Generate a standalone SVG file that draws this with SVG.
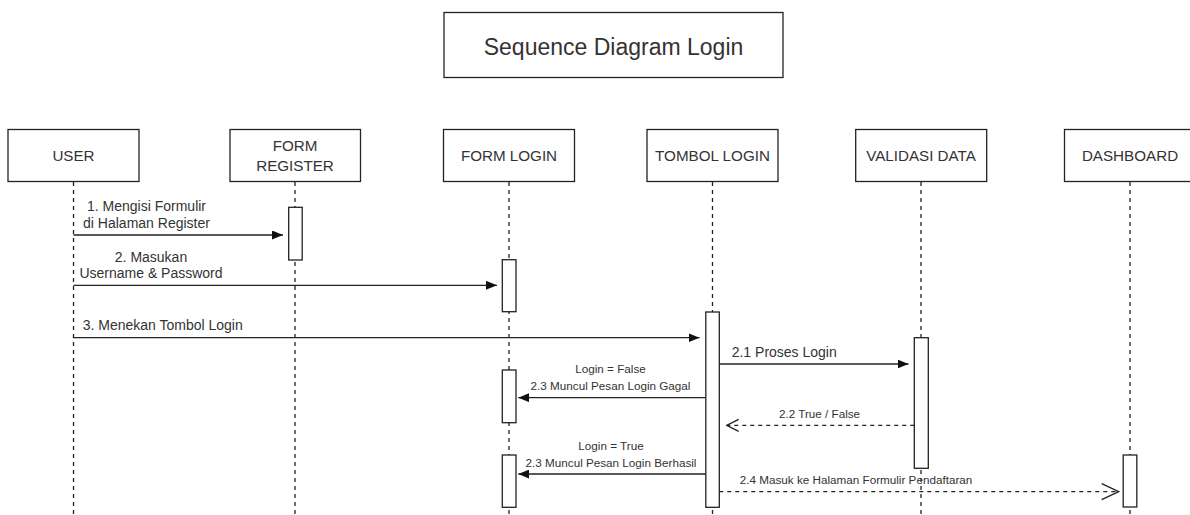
<svg xmlns="http://www.w3.org/2000/svg" width="1190" height="515" viewBox="0 0 1190 515">
  <style>
    .box { fill: #ffffff; stroke: #222222; stroke-width: 1.3; }
    .act { fill: #ffffff; stroke: #222222; stroke-width: 1.3; }
    .life { stroke: #222222; stroke-width: 1.3; stroke-dasharray: 4 4; fill: none; }
    .msg { stroke: #222222; stroke-width: 1.3; fill: none; }
    .ret { stroke: #222222; stroke-width: 1.3; stroke-dasharray: 4 4; fill: none; }
    text { font-family: "Liberation Sans", Arial, sans-serif; fill: #333333; }
    .title { font-size: 23px; text-anchor: middle; }
    .head { font-size: 15.2px; text-anchor: middle; }
    .lbl { font-size: 14px; }
    .small { font-size: 11.7px; text-anchor: middle; }
    .mid { text-anchor: middle; }
  </style>
  <defs>
    <marker id="block" viewBox="0 0 11 9" markerWidth="11" markerHeight="9" refX="11" refY="4.5" orient="auto" markerUnits="userSpaceOnUse">
      <path d="M0,0 L11,4.5 L0,9 z" fill="#111111"/>
    </marker>
    <marker id="open-sm" viewBox="0 0 14 14" markerWidth="14" markerHeight="14" refX="13" refY="7" orient="auto" markerUnits="userSpaceOnUse">
      <path d="M1,1 L13,7 L1,13" fill="none" stroke="#222222" stroke-width="1.3"/>
    </marker>
    <marker id="open-lg" viewBox="0 0 19 18" markerWidth="19" markerHeight="18" refX="18" refY="9" orient="auto" markerUnits="userSpaceOnUse">
      <path d="M1,1 L18,9 L1,17" fill="none" stroke="#222222" stroke-width="1.3"/>
    </marker>
  </defs>

  <rect width="1190" height="515" fill="#ffffff"/>

  <!-- title -->
  <g id="title">
    <rect class="box" x="444" y="12.5" width="339" height="65"/>
    <text class="title" x="613.5" y="55">Sequence Diagram Login</text>
  </g>

  <!-- lifelines -->
  <g id="lifelines">
    <line class="life" x1="73.5" y1="182" x2="73.5" y2="515"/>
    <line class="life" x1="295" y1="182" x2="295" y2="515"/>
    <line class="life" x1="509" y1="182" x2="509" y2="515"/>
    <line class="life" x1="712.5" y1="182" x2="712.5" y2="515"/>
    <line class="life" x1="921" y1="182" x2="921" y2="515"/>
    <line class="life" x1="1130" y1="182" x2="1130" y2="515"/>
  </g>

  <!-- participants -->
  <g id="user">
    <rect class="box" x="8" y="129.5" width="131" height="52"/>
    <text class="head" x="73.5" y="160.5">USER</text>
  </g>
  <g id="form-register">
    <rect class="box" x="230" y="129.5" width="130.5" height="52"/>
    <text class="head" x="295" y="151">FORM</text>
    <text class="head" x="295" y="171">REGISTER</text>
    <rect class="act" x="288.7" y="207.3" width="13.5" height="52.7"/>
  </g>
  <g id="form-login">
    <rect class="box" x="443.5" y="129.5" width="131" height="52"/>
    <text class="head" x="509" y="160.5">FORM LOGIN</text>
    <rect class="act" x="502.3" y="259.7" width="13.7" height="52"/>
    <rect class="act" x="502.3" y="370" width="13.7" height="52.7"/>
    <rect class="act" x="502.3" y="455" width="13.7" height="52.3"/>
  </g>
  <g id="tombol-login">
    <rect class="box" x="647" y="129.5" width="131" height="52"/>
    <text class="head" x="712.5" y="160.5">TOMBOL LOGIN</text>
    <rect class="act" x="705.8" y="312" width="13.5" height="195.3"/>
  </g>
  <g id="validasi-data">
    <rect class="box" x="855.7" y="129.5" width="131" height="52"/>
    <text class="head" x="921" y="160.5">VALIDASI DATA</text>
    <rect class="act" x="914.3" y="337.7" width="14" height="130.6"/>
  </g>
  <g id="dashboard">
    <rect class="box" x="1064.5" y="129.5" width="131" height="52"/>
    <text class="head" x="1130" y="160.5">DASHBOARD</text>
    <rect class="act" x="1123.2" y="455" width="13.6" height="52"/>
  </g>

  <!-- messages -->
  <g id="connectors">
    <line class="msg" x1="73.5" y1="235" x2="283" y2="235" marker-end="url(#block)"/>
    <text class="lbl mid" x="146.5" y="211">1. Mengisi Formulir</text>
    <text class="lbl mid" x="146.5" y="228">di Halaman Register</text>

    <line class="msg" x1="73.5" y1="285.3" x2="497" y2="285.3" marker-end="url(#block)"/>
    <text class="lbl mid" x="151" y="261.7">2. Masukan</text>
    <text class="lbl mid" x="151" y="278.3">Username &amp; Password</text>

    <line class="msg" x1="73.5" y1="337.7" x2="699.5" y2="337.7" marker-end="url(#block)"/>
    <text class="lbl" x="82.7" y="330">3. Menekan Tombol Login</text>

    <line class="msg" x1="719.3" y1="364" x2="908.5" y2="364" marker-end="url(#block)"/>
    <text class="lbl" x="731.7" y="356.7">2.1 Proses Login</text>

    <line class="msg" x1="705.8" y1="397.7" x2="518.3" y2="397.7" marker-end="url(#block)"/>
    <text class="small" x="610.5" y="373.3">Login = False</text>
    <text class="small" x="610.5" y="390">2.3 Muncul Pesan Login Gagal</text>

    <line class="ret" x1="914.3" y1="425.3" x2="726.7" y2="425.3" marker-end="url(#open-sm)"/>
    <text class="small" x="819.5" y="417.7">2.2 True / False</text>

    <line class="msg" x1="705.8" y1="474" x2="518.3" y2="474" marker-end="url(#block)"/>
    <text class="small" x="611" y="450">Login = True</text>
    <text class="small" x="611" y="466.7">2.3 Muncul Pesan Login Berhasil</text>

    <line class="ret" x1="719.3" y1="491.7" x2="1118.7" y2="491.7" marker-end="url(#open-lg)"/>
    <text class="small" x="856" y="484">2.4 Masuk ke Halaman Formulir Pendaftaran</text>
  </g>
</svg>
